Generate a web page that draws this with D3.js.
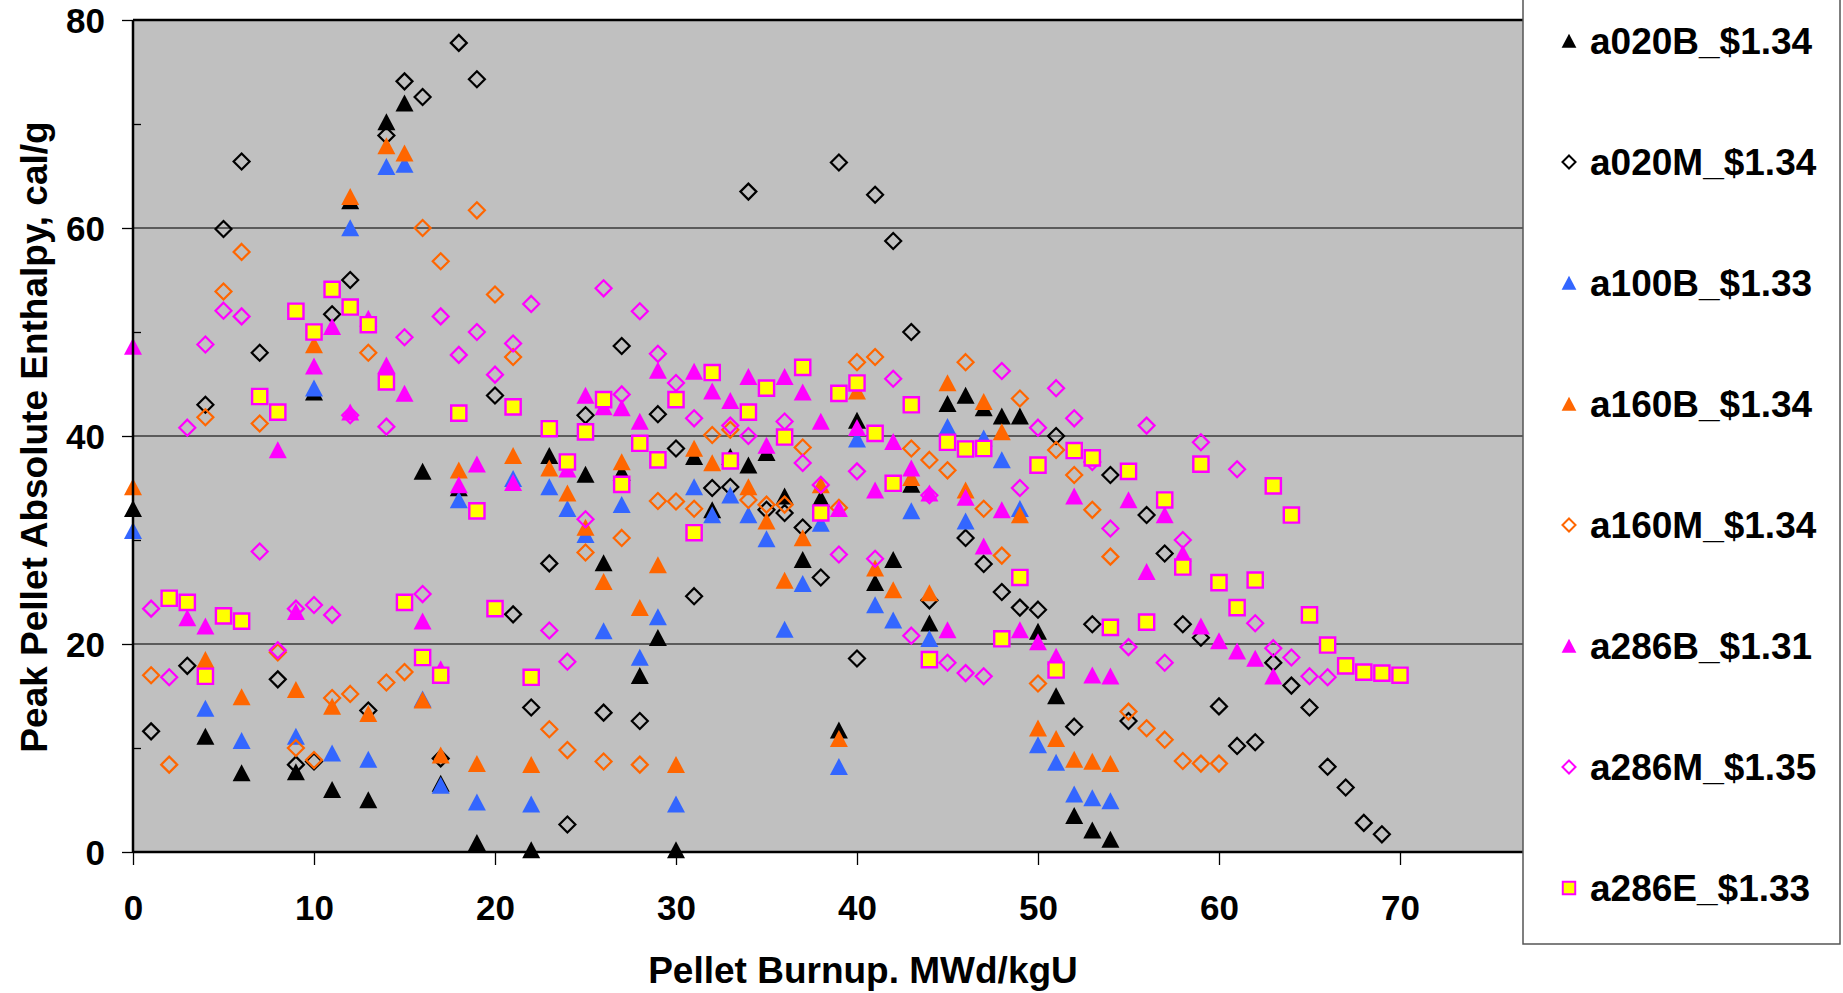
<!DOCTYPE html>
<html>
<head>
<meta charset="utf-8">
<script src="https://cdn.jsdelivr.net/npm/d3@7"></script>
<style>
  body { margin: 0; background: #ffffff; }
  svg { display: block; }
  text { font-family: "Liberation Sans", Arial, sans-serif; font-weight: bold; }
</style>
</head>
<body>
<svg id="chart" width="1843" height="993"></svg>
<script>
"use strict";

// [burnup MWd/kgU, peak enthalpy cal/g]
const a020B = [[0,33.0],[4,11.1],[6,7.6],[9,7.7],[10,44.2],[11,6.0],[12,62.6],[13,5.0],[14,70.2],[15,72.0],[16,36.6],[17,6.6],[18,35.0],[19,0.9],[22,0.2],[23,38.1],[25,36.3],[26,27.8],[27,36.5],[28,16.95],[29,20.6],[30,0.2],[31,38.0],[32,32.9],[33,38.0],[34,37.2],[35,38.4],[36,34.2],[37,28.1],[38,34.0],[39,11.7],[40,41.5],[41,25.9],[42,28.1],[43,35.35],[44,22.0],[45,43.1],[46,43.9],[47,42.7],[48,41.9],[49,41.9],[50,21.2],[51,15.0],[52,3.5],[53,2.1],[54,1.2]];
const a020M = [[1,11.6],[3,17.9],[4,43.0],[5,59.9],[6,66.4],[7,48.0],[8,16.6],[9,8.4],[10,8.7],[11,51.7],[12,55.0],[13,13.6],[14,68.9],[15,74.1],[16,72.6],[17,9.0],[18,77.8],[19,74.3],[20,43.9],[21,22.85],[22,13.9],[23,27.75],[24,2.65],[25,42.0],[26,13.4],[27,48.65],[28,12.6],[29,42.1],[30,38.8],[31,24.6],[32,35.0],[33,35.1],[34,63.5],[35,32.9],[36,32.6],[37,31.2],[38,26.4],[39,66.3],[40,18.6],[41,63.2],[42,58.75],[43,50.0],[44,24.2],[46,30.2],[47,27.7],[48,25.0],[49,23.5],[50,23.3],[51,40.0],[52,12.05],[53,21.9],[54,36.25],[55,12.6],[56,32.4],[57,28.7],[58,21.9],[59,20.6],[60,14.0],[61,10.2],[62,10.55],[63,18.2],[64,16.0],[65,13.9],[66,8.2],[67,6.2],[68,2.8],[69,1.7]];
const a100B = [[0,30.9],[4,13.8],[6,10.7],[9,11.1],[10,44.6],[11,9.5],[12,60.0],[13,8.9],[14,65.9],[15,66.1],[16,14.7],[17,6.4],[18,33.85],[19,4.8],[21,35.9],[22,4.6],[23,35.1],[24,33.0],[25,30.5],[26,21.25],[27,33.4],[28,18.7],[29,22.6],[30,4.6],[31,35.1],[32,32.4],[33,34.3],[34,32.4],[35,30.1],[36,21.4],[37,25.8],[38,31.6],[39,8.2],[40,39.7],[41,23.75],[42,22.3],[43,32.8],[44,20.5],[45,40.9],[46,31.8],[47,39.8],[48,37.7],[49,33.0],[50,10.3],[51,8.6],[52,5.55],[53,5.2],[54,4.9]];
const a160B = [[0,35.1],[4,18.5],[6,14.9],[9,15.6],[10,48.75],[11,14.0],[12,63.0],[13,13.3],[14,67.9],[15,67.2],[16,14.6],[17,9.3],[18,36.7],[19,8.5],[21,38.1],[22,8.4],[23,36.9],[24,34.5],[25,31.2],[26,26.0],[27,37.5],[28,23.5],[29,27.6],[30,8.4],[31,38.8],[32,37.4],[34,35.1],[35,31.8],[36,26.1],[37,30.2],[38,35.3],[39,10.9],[40,44.3],[41,27.3],[42,25.2],[43,36.0],[44,24.9],[45,45.1],[46,34.8],[47,43.3],[48,40.4],[49,32.4],[50,11.9],[51,10.9],[52,8.9],[53,8.7],[54,8.5]];
const a160M = [[1,17.0],[2,8.4],[4,41.8],[5,53.9],[6,57.7],[7,41.2],[8,19.2],[9,10.0],[10,8.85],[11,14.8],[12,15.2],[13,48.0],[14,16.3],[15,17.3],[16,60.0],[17,56.8],[19,61.7],[20,53.6],[21,47.6],[23,11.8],[24,9.8],[25,28.8],[26,8.7],[27,30.2],[28,8.4],[29,33.75],[30,33.7],[31,33.0],[32,40.1],[33,40.6],[34,33.85],[35,33.4],[36,33.4],[37,38.9],[39,33.1],[40,47.1],[41,47.6],[43,38.8],[44,37.7],[45,36.7],[46,47.1],[47,33.0],[48,28.5],[49,43.6],[50,16.2],[51,38.65],[52,36.25],[53,32.9],[54,28.4],[55,13.5],[56,11.9],[57,10.8],[58,8.75],[59,8.5],[60,8.5]];
const a286B = [[0,48.6],[3,22.5],[4,21.7],[8,38.65],[9,23.1],[10,46.7],[11,50.5],[12,42.3],[13,51.3],[14,46.8],[15,44.1],[16,22.2],[17,17.6],[18,35.3],[19,37.3],[21,35.5],[24,36.8],[25,43.9],[26,42.8],[27,42.7],[28,41.4],[29,46.3],[31,46.2],[32,44.3],[33,43.4],[34,45.7],[35,39.1],[36,45.7],[37,44.2],[38,41.4],[39,33.0],[40,40.8],[41,34.8],[42,39.45],[43,36.9],[44,34.5],[45,21.35],[46,34.1],[47,29.4],[48,32.9],[49,21.35],[50,20.2],[51,18.8],[52,34.2],[53,17.0],[54,16.9],[55,33.85],[56,26.95],[57,32.4],[58,28.7],[59,21.7],[60,20.3],[61,19.3],[62,18.6],[63,16.9]];
const a286M = [[1,23.4],[2,16.8],[3,40.8],[4,48.8],[5,52.05],[6,51.5],[7,28.9],[8,19.4],[9,23.4],[10,23.75],[11,22.8],[12,42.0],[14,40.9],[15,49.5],[16,24.8],[17,51.5],[18,47.8],[19,50.0],[20,45.9],[21,48.9],[22,52.7],[23,21.3],[24,18.3],[25,32.0],[26,54.2],[27,44.0],[28,52.0],[29,47.9],[30,45.1],[31,41.7],[33,41.0],[34,40.0],[36,41.4],[37,37.4],[38,35.3],[39,28.6],[40,36.6],[41,28.2],[42,45.5],[43,20.8],[44,34.3],[45,18.2],[46,17.2],[47,16.9],[48,46.25],[49,35.0],[50,40.8],[51,44.6],[52,41.7],[53,37.5],[54,31.1],[55,19.7],[56,41.0],[57,18.2],[58,30.0],[59,39.4],[61,36.8],[62,22.0],[63,19.6],[64,18.7],[65,16.9],[66,16.8]];
const a286E = [[2,24.4],[3,24.0],[4,16.9],[5,22.7],[6,22.2],[7,43.8],[8,42.3],[9,52.0],[10,50.0],[11,54.1],[12,52.4],[13,50.7],[14,45.2],[15,24.0],[16,18.7],[17,17.0],[18,42.2],[19,32.8],[20,23.4],[21,42.8],[22,16.8],[23,40.7],[24,37.5],[25,40.4],[26,43.5],[27,35.35],[28,39.3],[29,37.7],[30,43.5],[31,30.7],[32,46.1],[33,37.6],[34,42.3],[35,44.6],[36,39.9],[37,46.6],[38,32.6],[39,44.1],[40,45.1],[41,40.25],[42,35.45],[43,43.0],[44,18.5],[45,39.4],[46,38.75],[47,38.8],[48,20.5],[49,26.4],[50,37.2],[51,17.5],[52,38.6],[53,37.9],[54,21.6],[55,36.6],[56,22.1],[57,33.85],[58,27.4],[59,37.3],[60,25.9],[61,23.5],[62,26.15],[63,35.2],[64,32.4],[65,22.8],[66,19.9],[67,17.9],[68,17.3],[69,17.2],[70,17.0]];

const seriesNames = ["a020B_$1.34", "a020M_$1.34", "a100B_$1.33", "a160B_$1.34",
                     "a160M_$1.34", "a286B_$1.31", "a286M_$1.35", "a286E_$1.33"];
const seriesData = [a020B, a020M, a100B, a160B, a160M, a286B, a286M, a286E];
const xTicks = [0, 10, 20, 30, 40, 50, 60, 70];
const yTicks = [0, 20, 40, 60, 80];
const yMinorTicks = [10, 30, 50, 70];

// marker look per series, same order as above
const markerStyle = [
    {shape: "triangle", fill: "#000000", stroke: "none"},
    {shape: "diamond",  fill: "none",    stroke: "#000000"},
    {shape: "triangle", fill: "#3366ff", stroke: "none"},
    {shape: "triangle", fill: "#ff6600", stroke: "none"},
    {shape: "diamond",  fill: "none",    stroke: "#ff6600"},
    {shape: "triangle", fill: "#ff00ff", stroke: "none"},
    {shape: "diamond",  fill: "none",    stroke: "#ff00ff"},
    {shape: "square",   fill: "#ffff00", stroke: "#ff00ff"}
];

const plotLeft = 133, plotRight = 1523, plotTop = 20, plotBottom = 852;
const x70 = 1400;

const shapes = {
    triangle: "M0,-8.7L9,8.3L-9,8.3Z",
    diamond: "M0,-8L8,0L0,8L-8,0Z",
    square: "M-7.6,-7.6H7.6V7.6H-7.6Z"
};

const svg = d3.select("#chart");
svg.append("rect").attr("width", 1843).attr("height", 993).attr("fill", "#ffffff");

const xScale = d3.scaleLinear().domain([0, 70]).range([plotLeft, x70]);
const yScale = d3.scaleLinear().domain([0, 80]).range([plotBottom, plotTop]);

// plot area
svg.append("rect")
    .attr("x", plotLeft).attr("y", plotTop)
    .attr("width", plotRight - plotLeft).attr("height", plotBottom - plotTop)
    .attr("fill", "#c0c0c0");

svg.append("g").selectAll("line")
    .data([20, 40, 60])
    .join("line")
    .attr("x1", plotLeft).attr("x2", plotRight)
    .attr("y1", d => yScale(d)).attr("y2", d => yScale(d))
    .attr("stroke", "#3a3a3a").attr("stroke-width", 1.3);

svg.append("line")
    .attr("x1", plotLeft).attr("x2", plotRight)
    .attr("y1", yScale(80)).attr("y2", yScale(80))
    .attr("stroke", "#000").attr("stroke-width", 2.5);

// markers
const marks = svg.append("g");
seriesData.forEach((data, i) => {
    let st = markerStyle[i];
    marks.append("g").selectAll("path")
        .data(data)
        .join("path")
        .attr("d", shapes[st.shape])
        .attr("transform", d => `translate(${xScale(d[0])},${yScale(d[1])})`)
        .attr("fill", st.fill)
        .attr("stroke", st.stroke)
        .attr("stroke-width", st.shape == "square" ? 2.4 : 2.2);
});

// axes
const xAxis = svg.append("g")
    .attr("transform", `translate(0,${plotBottom})`)
    .call(d3.axisBottom(xScale).tickValues(xTicks).tickSize(13).tickPadding(0).tickFormat(d3.format("d")));
xAxis.select(".domain").attr("d", `M${plotLeft},0H${plotRight}`).attr("stroke", "#000").attr("stroke-width", 2.5);
xAxis.selectAll(".tick line").attr("stroke", "#000").attr("stroke-width", 1.3);
xAxis.selectAll(".tick text")
    .attr("y", 68).attr("dy", 0)
    .attr("fill", "#000").attr("font-size", 35).attr("font-family", null);

const yAxis = svg.append("g")
    .attr("transform", `translate(${plotLeft},0)`)
    .call(d3.axisLeft(yScale).tickValues(yTicks).tickSize(11).tickPadding(0).tickFormat(d3.format("d")));
yAxis.select(".domain").attr("d", `M0,${plotTop}V${plotBottom}`).attr("stroke", "#000").attr("stroke-width", 2.5);
yAxis.selectAll(".tick line").attr("stroke", "#000").attr("stroke-width", 1.3);
yAxis.selectAll(".tick text")
    .attr("x", -28).attr("dy", "0.36em")
    .attr("fill", "#000").attr("font-size", 35).attr("font-family", null);

svg.append("g")
    .attr("transform", `translate(${plotLeft},0)`)
    .call(d3.axisRight(yScale).tickValues(yMinorTicks).tickSize(8).tickFormat(""))
    .call(g => g.select(".domain").remove())
    .selectAll(".tick line").attr("stroke", "#000").attr("stroke-width", 1.3);

// axis titles
svg.append("text")
    .attr("x", 863).attr("y", 983)
    .attr("text-anchor", "middle")
    .attr("font-size", 37)
    .text("Pellet Burnup. MWd/kgU");

svg.append("text")
    .attr("transform", "translate(47,437) rotate(-90)")
    .attr("text-anchor", "middle")
    .attr("font-size", 37)
    .text("Peak Pellet Absolute Enthalpy, cal/g");

// legend
const legend = svg.append("g");
legend.append("rect")
    .attr("x", plotRight).attr("y", -2)
    .attr("width", 317).attr("height", 946)
    .attr("fill", "#ffffff").attr("stroke", "#555555").attr("stroke-width", 1.5);

const legendItems = legend.selectAll("g.item")
    .data(seriesNames)
    .join("g")
    .attr("class", "item")
    .attr("transform", (d, i) => `translate(1569,${41 + i * 121})`);

legendItems.append("path")
    .attr("d", (d, i) => shapes[markerStyle[i].shape])
    .attr("transform", "scale(0.82)")
    .attr("fill", (d, i) => markerStyle[i].fill)
    .attr("stroke", (d, i) => markerStyle[i].stroke)
    .attr("stroke-width", 2.4);

legendItems.append("text")
    .attr("x", 21).attr("dy", "0.36em")
    .attr("font-size", 37)
    .text(d => d);
</script>
</body>
</html>
